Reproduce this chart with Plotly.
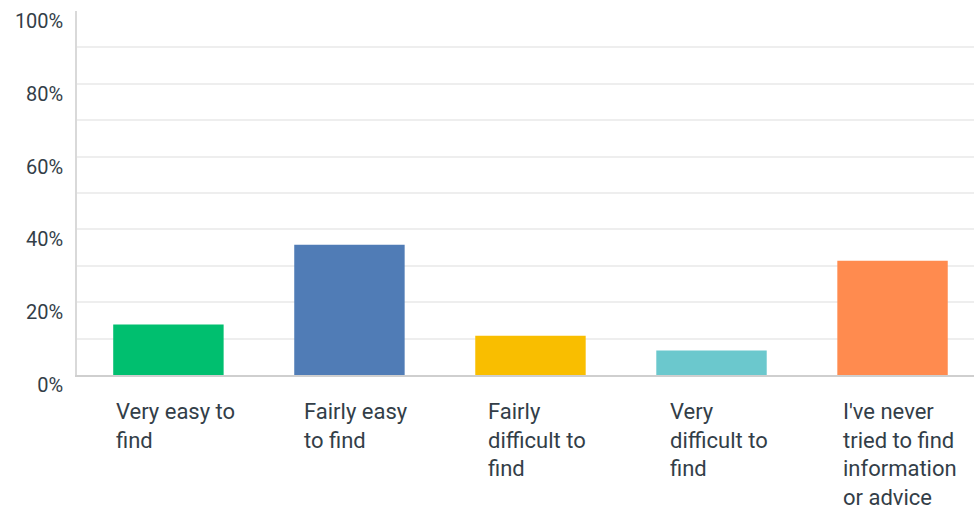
import plotly.graph_objects as go

categories = ["Very easy to find", "Fairly easy to find", "Fairly difficult to find",
              "Very difficult to find", "I've never tried to find information or advice"]
label_lines = ["Very easy to<br>find", "Fairly easy<br>to find", "Fairly<br>difficult to<br>find",
               "Very<br>difficult to<br>find", "I've never<br>tried to find<br>information<br>or advice"]
values = [13.9, 35.8, 10.8, 6.7, 31.4]
colors = ["#00bf6f", "#507cb6", "#f9be00", "#6bc8cd", "#ff8b4f"]
y_tickvals = [0, 20, 40, 60, 80, 100]
y_ticktext = ["0%", "20%", "40%", "60%", "80%", "100%"]

text_color = "#333e48"
font_family = "Roboto, 'Noto Sans', sans-serif"

fig = go.Figure()
fig.add_trace(go.Bar(x=categories, y=values, marker=dict(color=colors, line=dict(width=0)),
                     hoverinfo="skip"))

for cat, lab in zip(categories, label_lines):
    fig.add_annotation(x=cat, y=0, xref="x", yref="paper", text=lab, showarrow=False,
                       xanchor="center", yanchor="top", align="left", xshift=7, yshift=-22,
                       font=dict(family=font_family, size=22, color=text_color))

fig.update_layout(
    width=974, height=510,
    margin=dict(l=77, r=0, t=11, b=135, autoexpand=False),
    paper_bgcolor="white", plot_bgcolor="white",
    bargap=0.39, showlegend=False,
    font=dict(family=font_family, color=text_color),
)
fig.update_xaxes(range=[-0.505, 4.45], showticklabels=False, showgrid=False, zeroline=False,
                 showline=True, linecolor="#cfcfcf", linewidth=2, ticks="", automargin=False)
fig.update_yaxes(range=[0, 100], tickvals=y_tickvals, ticktext=y_ticktext, automargin=False,
                 showgrid=True, gridcolor="#eeeeee", gridwidth=1.5, zeroline=False,
                 minor=dict(tickvals=[10, 30, 50, 70, 90], showgrid=True, gridcolor="#eeeeee", gridwidth=1.5),
                 showline=True, linecolor="#d9d9d9", linewidth=1.5, ticks="",
                 ticklabelstandoff=8, ticklabelshift=10, ticklabeloverflow="allow",
                 tickfont=dict(family=font_family, size=20, color=text_color))

fig.write_html("out.html", config={"displayModeBar": False},
               post_script="document.body.style.margin='0';document.body.style.padding='0';")
